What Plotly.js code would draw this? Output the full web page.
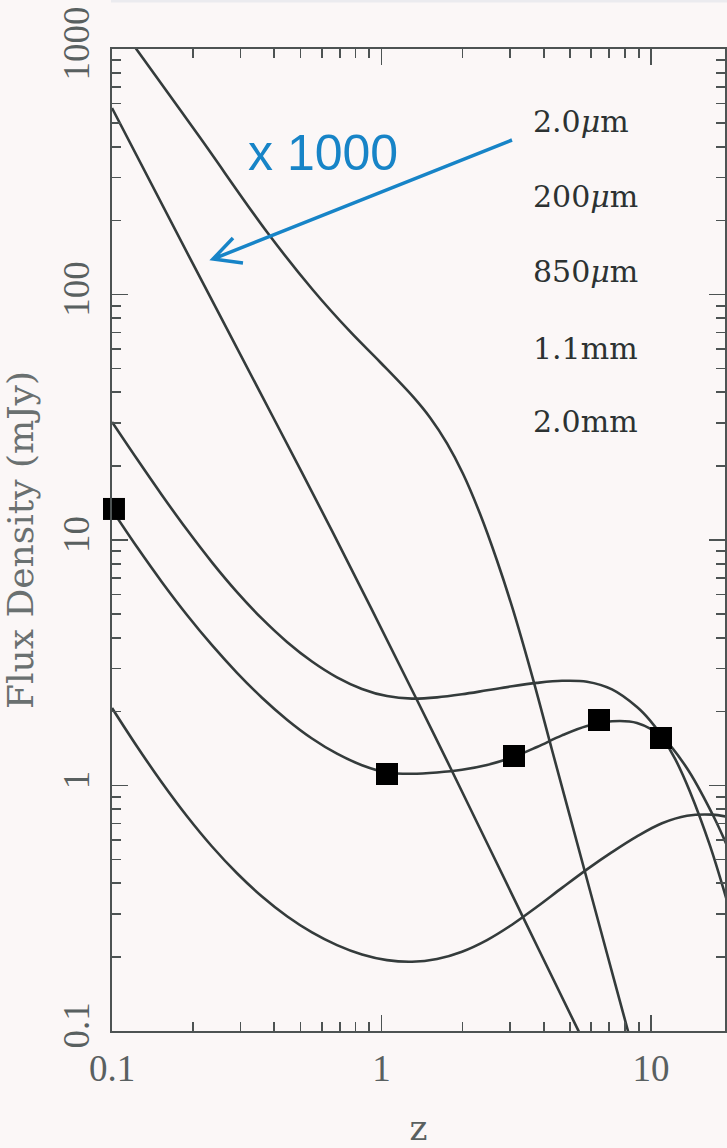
<!DOCTYPE html>
<html>
<head>
<meta charset="utf-8">
<script src="https://cdn.plot.ly/plotly-3.0.1.min.js"></script>
<style>
  html, body { margin: 0; padding: 0; background: #fbf7f7; }
  #chart { width: 727px; height: 1148px; }
</style>
</head>
<body>
<div id="chart"></div>
<script>
// Observed flux density (mJy) against redshift z for a model dusty galaxy

// 200 micron
const z200um = [0.1, 0.12383, 0.2121, 0.3759, 0.5567, 0.7639, 0.9873, 1.3089, 1.5131, 1.7502, 2.0064, 2.3202, 2.6827, 3.0752, 3.6494, 4.2926, 5.6892, 6.8659, 8.2152, 9.103];
const f200um = [1371, 990.7, 435.6, 179.7, 104.3, 70.7, 53.1, 38.35, 31.55, 24.75, 18.61, 12.79, 8.253, 5.201, 2.7102, 1.3951, 0.4443, 0.2069, 0.1, 0.0656];

// 2.0 micron, scaled up by 1000
const z2um = [0.1, 0.1964, 0.3957, 0.661, 1.354, 1.796, 3.35, 5.36, 5.8];
const f2um = [575, 138, 31.7, 10.7, 2.23, 1.19, 0.291, 0.101, 0.085];

// redshifts shared by the sub-mm / mm curves
const zGrid = [0.1, 0.12383, 0.1533, 0.1898, 0.235, 0.291, 0.3602, 0.446, 0.5522, 0.6837, 0.8465, 1.0481,
               1.2977, 1.6067, 1.9893, 2.463, 3.0495, 3.7756, 4.6748, 5.788, 7.1662, 8.8727, 10.985, 13.601, 16.84];

// 850 micron
const z850um = zGrid.slice(0, 22).concat([9.9149, 10.892, 12.302, 13.953, 16.553, 19.143]);
const f850um = [30.25, 21.36, 15.22, 11.0, 8.112, 6.135, 4.78, 3.845, 3.2, 2.759, 2.474, 2.313, 2.259, 2.285,
                2.352, 2.442, 2.536, 2.618, 2.67, 2.647, 2.463, 2.088, 1.843, 1.607, 1.281, 0.9435, 0.5686, 0.3385];

// 1.1 mm
const z1p1mm = zGrid.concat([19.143]);
const f1p1mm = [13.255, 9.356, 6.731, 4.949, 3.728, 2.878, 2.278, 1.854, 1.554, 1.3475, 1.21, 1.13, 1.1165, 1.13,
                1.159, 1.212, 1.3, 1.435, 1.6, 1.747, 1.826, 1.797, 1.576, 1.176, 0.7708, 0.5696];

// 2.0 mm
const z2mm = zGrid.concat([19.143]);
const f2mm = [2.0689, 1.442, 1.026, 0.7494, 0.5643, 0.4391, 0.3531, 0.2934, 0.2521, 0.2237, 0.2049, 0.1944, 0.1915,
              0.1965, 0.2104, 0.2346, 0.271, 0.3205, 0.3827, 0.4553, 0.535, 0.6204, 0.7015, 0.7526, 0.7611, 0.7456];

// measured 1.1 mm points
const zPoints = [0.1017, 1.0481, 3.1016, 6.413, 10.892];
const fPoints = [13.38, 1.1139, 1.3189, 1.8484, 1.5613];

// wavelength captions
const bandLabels = ['2.0<i>μ</i>m', '200<i>μ</i>m', '850<i>μ</i>m', '1.1mm', '2.0mm'];
const scaleNote = 'x 1000';

// axis ticks
const xTickVals = [0.1, 1, 10];
const xTickText = ['0.1', '1', '10'];
const yTickVals = [0.1, 1, 10, 100, 1000];
const yTickText = ['0.1', '1', '10', '100', '1000'];

const W = 727, H = 1148;
const M = { l: 112, r: 2, t: 49, b: 117 };
const PW = W - M.l - M.r, PH = H - M.t - M.b;
const px = x => (x - M.l) / PW;          // page pixel -> paper x
const py = y => (H - M.b - y) / PH;      // page pixel -> paper y

const curveColor = '#343b3b';
const axisColor = '#4d5353';
const textColor = '#596060';
const blue = '#1784c7';

function curve(z, f, name) {
  return {
    x: z, y: f, name: name, type: 'scatter', mode: 'lines',
    line: { color: curveColor, width: 2.6, shape: 'spline', smoothing: 1 },
    hoverinfo: 'skip'
  };
}

const traces = [
  curve(z200um, f200um, '200um'),
  curve(z2um, f2um, '2.0um x1000'),
  curve(z850um, f850um, '850um'),
  curve(z1p1mm, f1p1mm, '1.1mm'),
  curve(z2mm, f2mm, '2.0mm'),
  {
    x: zPoints, y: fPoints, type: 'scatter', mode: 'markers', name: 'data',
    marker: { symbol: 'square', size: 22, color: '#000000', line: { width: 0 } },
    cliponaxis: false
  }
];

const tickFont = { family: 'Liberation Serif, serif', size: 37, color: textColor };

const commonAxis = {
  type: 'log',
  showline: true, linecolor: axisColor, linewidth: 2,
  mirror: 'ticks',
  ticks: 'inside', ticklen: 16, tickwidth: 1.7, tickcolor: axisColor,
  minor: { ticks: 'inside', ticklen: 9, tickwidth: 1.7, tickcolor: axisColor, dtick: 'D1', showgrid: false },
  showgrid: false, zeroline: false,
  tickfont: tickFont,
  tickmode: 'array'
};

const labelYs = [121, 196, 271, 348, 421];
const annotations = bandLabels.map((t, i) => ({
  xref: 'paper', yref: 'paper', x: px(531), y: py(labelYs[i]),
  xanchor: 'left', yanchor: 'middle', showarrow: false,
  text: t, font: { family: 'DejaVu Serif, serif', size: 30, color: '#2c3232' }
}));
annotations.push({
  xref: 'paper', yref: 'paper', x: px(246), y: py(153),
  xanchor: 'left', yanchor: 'middle', showarrow: false,
  text: scaleNote, font: { family: 'Liberation Sans, Arial, sans-serif', size: 50, color: blue }
});

// arrow from the 2.0um caption to its scaled curve
const tail = [512, 140], tip = [213, 259], armA = [233, 238], armB = [243, 263];
const P = p => `${px(p[0])},${py(p[1])}`;
const shapes = [
  {
    type: 'path', xref: 'paper', yref: 'paper',
    path: `M${P(tail)} L${P(tip)} M${P(armA)} L${P(tip)} L${P(armB)}`,
    line: { color: blue, width: 3.5 }
  },
  {
    type: 'rect', xref: 'paper', yref: 'paper', layer: 'below',
    x0: px(111), x1: px(727), y0: py(2.5), y1: py(0),
    fillcolor: '#ebebef', line: { width: 0 }
  }
];

const layout = {
  width: W, height: H,
  margin: { l: M.l, r: M.r, t: M.t, b: M.b, pad: 0 },
  paper_bgcolor: '#fbf7f7', plot_bgcolor: '#fbf7f7',
  showlegend: false,
  xaxis: Object.assign({}, commonAxis, {
    range: [-1, Math.log10(18.82)],
    tickvals: xTickVals, ticktext: xTickText,
    ticklabelstandoff: 4,
    title: { text: 'z', font: { family: 'DejaVu Serif, serif', size: 34, color: textColor }, standoff: 43 }
  }),
  yaxis: Object.assign({}, commonAxis, {
    range: [-1, 3],
    tickvals: yTickVals, ticktext: yTickText,
    tickangle: -90,
    ticklabelstandoff: 6,
    title: { text: 'Flux Density (mJy)', font: { family: 'DejaVu Serif, serif', size: 36, color: '#6a7070' }, standoff: 12 }
  }),
  annotations: annotations,
  shapes: shapes
};

Plotly.newPlot('chart', traces, layout, { staticPlot: true, displayModeBar: false });
</script>
</body>
</html>
